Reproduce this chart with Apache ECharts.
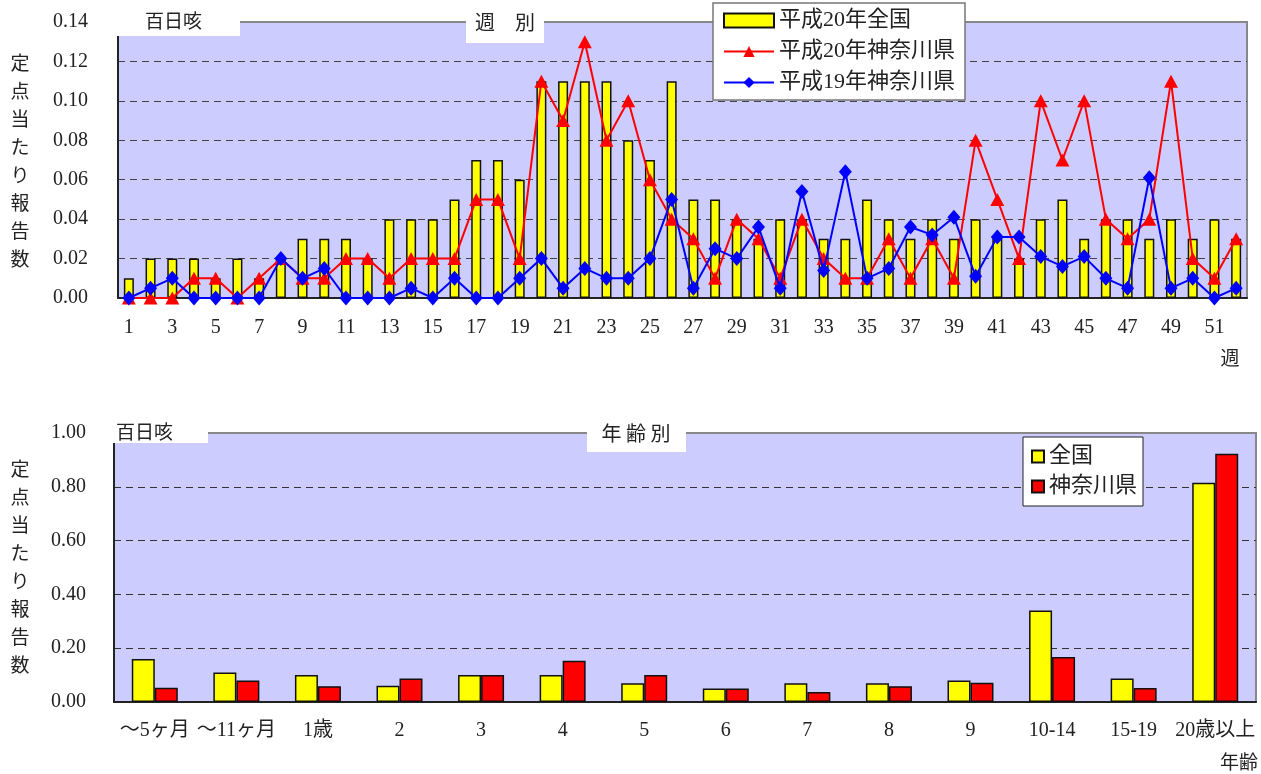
<!DOCTYPE html>
<html>
<head>
<meta charset="utf-8">
<script src="https://cdn.jsdelivr.net/npm/echarts@6/dist/echarts.min.js"></script>
<style>
  html, body { margin: 0; padding: 0; background: #fff; }
  #main { width: 1261px; height: 774px; }
</style>
</head>
<body>
<div id="main"></div>
<script>
// 週別
const weeks = ['1','2','3','4','5','6','7','8','9','10','11','12','13','14','15','16','17','18','19','20',
  '21','22','23','24','25','26','27','28','29','30','31','32','33','34','35','36','37','38','39','40',
  '41','42','43','44','45','46','47','48','49','50','51','52']
const national20 = [0.01,0.02,0.02,0.02,0.01,0.02,0.01,0.02,0.03,0.03,
  0.03,0.02,0.04,0.04,0.04,0.05,0.07,0.07,0.06,0.11,
  0.11,0.11,0.11,0.08,0.07,0.11,0.05,0.05,0.04,0.03,
  0.04,0.04,0.03,0.03,0.05,0.04,0.03,0.04,0.03,0.04,
  0.03,0.02,0.04,0.05,0.03,0.04,0.04,0.03,0.04,0.03,
  0.04,0.03]
const kanagawa20 = [0,0,0,0.01,0.01,0,0.01,0.02,0.01,0.01,
  0.02,0.02,0.01,0.02,0.02,0.02,0.05,0.05,0.02,0.11,
  0.09,0.13,0.08,0.10,0.06,0.04,0.03,0.01,0.04,0.03,
  0.01,0.04,0.02,0.01,0.01,0.03,0.01,0.03,0.01,0.08,
  0.05,0.02,0.10,0.07,0.10,0.04,0.03,0.04,0.11,0.02,
  0.01,0.03]
const kanagawa19 = [0,0.005,0.01,0,0,0,0,0.02,0.01,0.015,
  0,0,0,0.005,0,0.01,0,0,0.01,0.02,
  0.005,0.015,0.01,0.01,0.02,0.05,0.005,0.025,0.02,0.036,
  0.005,0.054,0.014,0.064,0.01,0.015,0.036,0.032,0.041,0.011,
  0.031,0.031,0.021,0.016,0.021,0.01,0.005,0.061,0.005,0.01,
  0,0.005]

// 年齢別
const ages = ['～5ヶ月','～11ヶ月','1歳','2','3','4','5','6','7','8','9','10-14','15-19','20歳以上']
const ageNational = [0.16,0.11,0.10,0.06,0.10,0.10,0.07,0.05,0.07,0.07,0.08,0.34,0.087,0.815]
const ageKanagawa = [0.053,0.08,0.059,0.087,0.10,0.153,0.10,0.05,0.037,0.059,0.072,0.167,0.052,0.923]

const FONT = "'Liberation Serif', 'Noto Sans CJK JP', serif"
const yTitle = '定点当たり報告数'.split('').join('\n')

const chart = echarts.init(document.getElementById('main'))

const option = {
  animation: false,
  textStyle: { fontFamily: FONT, color: '#222' },
  grid: [
    { left: 118, top: 22, width: 1129, height: 276, show: true,
      backgroundColor: '#CCCCFF', borderColor: '#888', borderWidth: 2 },
    { left: 114, top: 433, width: 1142, height: 269, show: true,
      backgroundColor: '#CCCCFF', borderColor: '#888', borderWidth: 2 }
  ],
  legend: [
    {
      data: [{ name: '平成20年全国', icon: 'rect' }, '平成20年神奈川県', '平成19年神奈川県'],
      orient: 'vertical', left: 713, top: 3,
      padding: [6, 10, 6, 10], itemGap: 8,
      itemWidth: 50, itemHeight: 14,
      backgroundColor: '#fff', borderColor: '#777', borderWidth: 1.5,
      textStyle: { fontSize: 22, fontFamily: FONT, color: '#222', lineHeight: 23 }
    },
    {
      data: [{ name: '全国', icon: 'rect' }, { name: '神奈川県', icon: 'rect' }],
      orient: 'vertical', left: 1023, top: 437,
      padding: [8, 6, 8, 8], itemGap: 7,
      itemWidth: 12, itemHeight: 12,
      backgroundColor: '#fff', borderColor: '#222', borderWidth: 1,
      textStyle: { fontSize: 22, fontFamily: FONT, color: '#222', lineHeight: 23 }
    }
  ],
  xAxis: [
    {
      type: 'category', gridIndex: 0, data: weeks,
      axisLine: { lineStyle: { color: '#222', width: 2 } },
      axisTick: { inside: true, length: 4, interval: 0, lineStyle: { color: '#444' } },
      axisLabel: { interval: 1, margin: 20, fontSize: 20, fontFamily: FONT, color: '#222' }
    },
    {
      type: 'category', gridIndex: 1, data: ages,
      axisLine: { lineStyle: { color: '#222', width: 2 } },
      axisTick: { inside: true, length: 5, interval: 0, lineStyle: { color: '#444' } },
      axisLabel: { interval: 0, margin: 19, fontSize: 20, fontFamily: FONT, color: '#222' }
    }
  ],
  yAxis: [
    {
      type: 'value', gridIndex: 0, min: 0, max: 0.14, interval: 0.02,
      axisLine: { show: true, lineStyle: { color: '#222', width: 2 } },
      axisTick: { show: false },
      axisLabel: { margin: 30, fontSize: 20, fontFamily: FONT, color: '#222',
        formatter: v => v.toFixed(2) },
      splitLine: { lineStyle: { type: [7, 5], width: 1.2,
        color: ['transparent', '#444', '#444', '#444', '#444', '#444', '#444', 'transparent'] } }
    },
    {
      type: 'value', gridIndex: 1, min: 0, max: 1, interval: 0.2,
      axisLine: { show: true, lineStyle: { color: '#222', width: 2 } },
      axisTick: { show: false },
      axisLabel: { margin: 28, fontSize: 20, fontFamily: FONT, color: '#222',
        formatter: v => v.toFixed(2) },
      splitLine: { lineStyle: { type: [7, 5], width: 1.2,
        color: ['transparent', '#333', '#333', '#333', '#333', 'transparent'] } }
    }
  ],
  series: [
    {
      name: '平成20年全国', type: 'bar', xAxisIndex: 0, yAxisIndex: 0,
      data: national20, barWidth: 10,
      itemStyle: { color: '#FFFF00', borderColor: '#111', borderWidth: 1.5 }
    },
    {
      name: '平成20年神奈川県', type: 'line', xAxisIndex: 0, yAxisIndex: 0,
      data: kanagawa20, symbol: 'triangle', symbolSize: [14, 13], showAllSymbol: true,
      lineStyle: { color: '#FF0000', width: 2 },
      itemStyle: { color: '#FF0000' }, z: 3
    },
    {
      name: '平成19年神奈川県', type: 'line', xAxisIndex: 0, yAxisIndex: 0,
      data: kanagawa19, symbol: 'diamond', symbolSize: [13, 15], showAllSymbol: true,
      lineStyle: { color: '#0000FF', width: 2 },
      itemStyle: { color: '#0000FF' }, z: 4
    },
    {
      name: '全国', type: 'bar', xAxisIndex: 1, yAxisIndex: 1,
      data: ageNational, barWidth: 23, barGap: '0%',
      itemStyle: { color: '#FFFF00', borderColor: '#111', borderWidth: 1.5 }
    },
    {
      name: '神奈川県', type: 'bar', xAxisIndex: 1, yAxisIndex: 1,
      data: ageKanagawa, barWidth: 23, barGap: '0%',
      itemStyle: { color: '#FF0000', borderColor: '#111', borderWidth: 1.5 }
    }
  ],
  graphic: [
    // 上のグラフの見出し
    { type: 'rect', z: 100, shape: { x: 117, y: 3, width: 123, height: 33 }, style: { fill: '#fff' } },
    { type: 'text', z: 101, x: 145, y: 21, style: { text: '百日咳', font: "19px 'Noto Sans CJK JP'", fill: '#222', textVerticalAlign: 'middle' } },
    { type: 'rect', z: 100, shape: { x: 466, y: 3, width: 78, height: 40 }, style: { fill: '#fff' } },
    { type: 'text', z: 101, x: 505, y: 22, style: { text: '週　別', font: "20px 'Noto Sans CJK JP'", fill: '#222', textAlign: 'center', textVerticalAlign: 'middle' } },
    { type: 'text', z: 101, x: 20, y: 161, style: { text: yTitle, font: "19px 'Noto Sans CJK JP'", lineHeight: 28, fill: '#222', textAlign: 'center', textVerticalAlign: 'middle' } },
    { type: 'text', z: 101, x: 1230, y: 358, style: { text: '週', font: "19px 'Noto Sans CJK JP'", fill: '#222', textAlign: 'center', textVerticalAlign: 'middle' } },
    // 下のグラフの見出し
    { type: 'rect', z: 100, shape: { x: 113, y: 418, width: 95, height: 25 }, style: { fill: '#fff' } },
    { type: 'text', z: 101, x: 116, y: 432, style: { text: '百日咳', font: "19px 'Noto Sans CJK JP'", fill: '#222', textVerticalAlign: 'middle' } },
    { type: 'rect', z: 100, shape: { x: 587, y: 418, width: 99, height: 34 }, style: { fill: '#fff' } },
    { type: 'text', z: 101, x: 636, y: 433, style: { text: '年 齢 別', font: "20px 'Noto Sans CJK JP'", fill: '#222', textAlign: 'center', textVerticalAlign: 'middle' } },
    { type: 'text', z: 101, x: 20, y: 567, style: { text: yTitle, font: "19px 'Noto Sans CJK JP'", lineHeight: 28, fill: '#222', textAlign: 'center', textVerticalAlign: 'middle' } },
    { type: 'text', z: 101, x: 1258, y: 762, style: { text: '年齢', font: "19px 'Noto Sans CJK JP'", fill: '#222', textAlign: 'right', textVerticalAlign: 'middle' } }
  ]
}

chart.setOption(option)
</script>
</body>
</html>
